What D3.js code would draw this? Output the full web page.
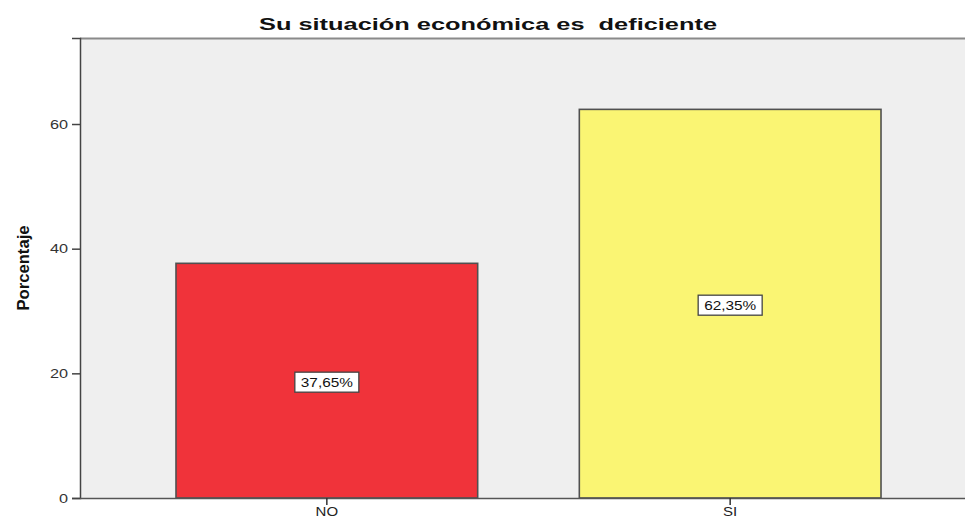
<!DOCTYPE html>
<html><head><meta charset="utf-8">
<script src="https://cdn.jsdelivr.net/npm/d3@7"></script>
<style>body{margin:0;background:#fff}svg{display:block}</style>
</head><body>
<script>
const categories = ["NO", "SI"];
const values = [37.65, 62.35];
const valueLabels = ["37,65%", "62,35%"];
const barColors = ["#F0333A", "#FAF573"];
const yTicks = [0, 20, 40, 60];
const title = "Su situación económica es\u00a0 deficiente";
const yTitle = "Porcentaje";

const W = 965, H = 518;
const m = {left: 80, top: 38, bottom: 498};
const svg = d3.select("body").append("svg").attr("width", W).attr("height", H);

const y = d3.scaleLinear().domain([0, 73.8]).range([m.bottom, m.top]);
const x = d3.scaleBand().domain(categories).range([m.left, 977]).paddingInner(0.252).paddingOuter(0.238);

function stretch(sel, k) {
  sel.each(function () {
    const len = this.getComputedTextLength();
    d3.select(this).attr("textLength", len * k).attr("lengthAdjust", "spacingAndGlyphs");
  });
}

svg.append("rect").attr("x", m.left).attr("y", m.top).attr("width", W - m.left + 5).attr("height", m.bottom - m.top)
  .attr("fill", "#EFEFEF");
svg.append("line").attr("x1", m.left).attr("x2", W).attr("y1", m.top + 0.5).attr("y2", m.top + 0.5)
  .attr("stroke", "#8a8a8a").attr("stroke-width", 2);

svg.selectAll("rect.bar").data(values).join("rect").attr("class", "bar")
  .attr("x", (d, i) => x(categories[i]))
  .attr("y", d => y(d))
  .attr("width", x.bandwidth())
  .attr("height", d => y(0) - y(d))
  .attr("fill", (d, i) => barColors[i])
  .attr("stroke", "#505050").attr("stroke-width", 1.6);

// y axis
const ya = svg.append("g").attr("transform", `translate(${m.left},0)`)
  .call(d3.axisLeft(y).tickValues(yTicks).tickSize(8).tickPadding(4));
ya.select(".domain").attr("stroke", "#444").attr("stroke-width", 1.5);
ya.selectAll(".tick line").attr("stroke", "#444").attr("stroke-width", 1.5);
ya.selectAll(".tick text").attr("fill", "#333").style("font", "13px 'Liberation Sans', Arial, sans-serif").call(stretch, 1.25);

// x axis
const xa = svg.append("g").attr("transform", `translate(0,${m.bottom})`)
  .call(d3.axisBottom(x).tickSize(7).tickPadding(2));
xa.select(".domain").attr("stroke", "#555").attr("stroke-width", 1.5).attr("d", `M${m.left},0.5H${W}`);
xa.selectAll(".tick line").attr("stroke", "#333").attr("stroke-width", 1.5);
xa.selectAll(".tick text").attr("fill", "#222").style("font", "12px 'Liberation Sans', Arial, sans-serif").call(stretch, 1.25);

// value labels
const lg = svg.selectAll("g.lab").data(values).join("g").attr("class", "lab")
  .attr("transform", (d, i) => `translate(${x(categories[i]) + x.bandwidth() / 2},${y(d / 2) + 1.5})`);
lg.append("rect").attr("x", -32).attr("y", -10).attr("width", 64).attr("height", 20)
  .attr("fill", "#fff").attr("stroke", "#444").attr("stroke-width", 1.3);
lg.append("text").text((d, i) => valueLabels[i]).attr("text-anchor", "middle").attr("dy", "0.36em")
  .attr("fill", "#111").style("font", "13px 'Liberation Sans', Arial, sans-serif").call(stretch, 1.18);

// titles
svg.append("text").attr("x", 488).attr("y", 30).attr("text-anchor", "middle")
  .attr("textLength", 458).attr("lengthAdjust", "spacingAndGlyphs")
  .style("font", "bold 17px 'Liberation Sans', Arial, sans-serif").attr("fill", "#111").text(title);
svg.append("text").attr("transform", "translate(29,268) rotate(-90)").attr("text-anchor", "middle")
  .attr("textLength", 85).attr("lengthAdjust", "spacingAndGlyphs")
  .style("font", "bold 16px 'Liberation Sans Narrow', 'Liberation Sans', Arial, sans-serif").attr("fill", "#111").text(yTitle);
</script>
</body></html>
